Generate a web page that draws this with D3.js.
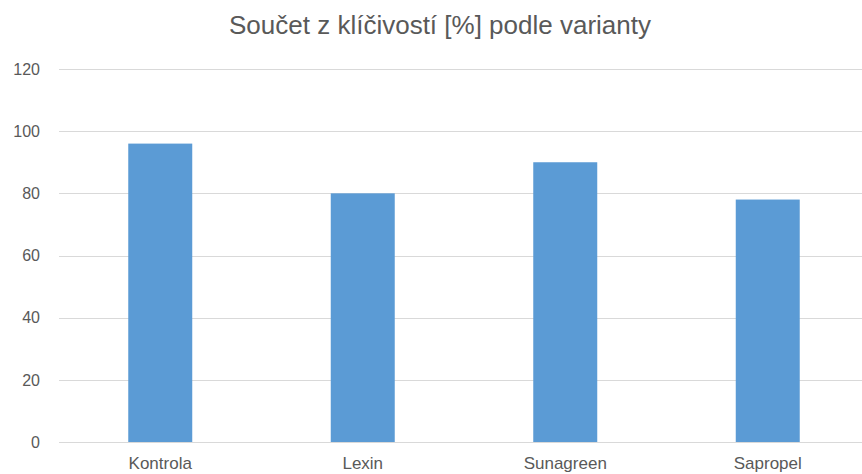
<!DOCTYPE html>
<html>
<head>
<meta charset="utf-8">
<script src="https://cdn.jsdelivr.net/npm/d3@7"></script>
<style>
  body { margin: 0; background: #fff; }
  text { font-family: "Liberation Sans", Arial, sans-serif; fill: #595959; }
</style>
</head>
<body>
<svg id="chart" width="862" height="474"></svg>
<script>
// data
const categories = ["Kontrola", "Lexin", "Sunagreen", "Sapropel"];
const values = [96, 80, 90, 78];
const yTicks = [0, 20, 40, 60, 80, 100, 120];
const title = "Součet z klíčivostí [%] podle varianty";

const svg = d3.select("#chart");
const plotLeft = 59, plotRight = 869, plotTop = 69, plotBottom = 442;

const x = d3.scaleBand()
    .domain(categories)
    .range([plotLeft, plotRight])
    .paddingInner(0.684)
    .paddingOuter(0.342);

const y = d3.scaleLinear()
    .domain([0, 120])
    .range([plotBottom, plotTop]);

// gridlines
svg.append("g")
    .selectAll("line")
    .data(yTicks)
    .join("line")
    .attr("x1", plotLeft)
    .attr("x2", 862)
    .attr("y1", d => Math.round(y(d)) + 0.5)
    .attr("y2", d => Math.round(y(d)) + 0.5)
    .attr("stroke", "#d9d9d9")
    .attr("stroke-width", 1);

// y tick labels
svg.append("g")
    .selectAll("text")
    .data(yTicks)
    .join("text")
    .attr("x", 40)
    .attr("y", d => y(d))
    .attr("dy", "0.36em")
    .attr("text-anchor", "end")
    .style("font-size", "16px")
    .text(d => d);

// bars
svg.append("g")
    .selectAll("rect")
    .data(values)
    .join("rect")
    .attr("x", (d, i) => x(categories[i]))
    .attr("y", d => y(d))
    .attr("width", x.bandwidth())
    .attr("height", d => y(0) - y(d))
    .attr("fill", "#5b9bd5");

// category labels (reference crops them at the bottom edge; keep them just inside)
svg.append("g")
    .selectAll("text")
    .data(categories)
    .join("text")
    .attr("x", d => x(d) + x.bandwidth() / 2)
    .attr("y", 469)
    .attr("text-anchor", "middle")
    .style("font-size", "17px")
    .text(d => d);

svg.append("text")
    .attr("x", 440)
    .attr("y", 34)
    .attr("text-anchor", "middle")
    .style("font-size", "26px")
    .text(title);
</script>
</body>
</html>
